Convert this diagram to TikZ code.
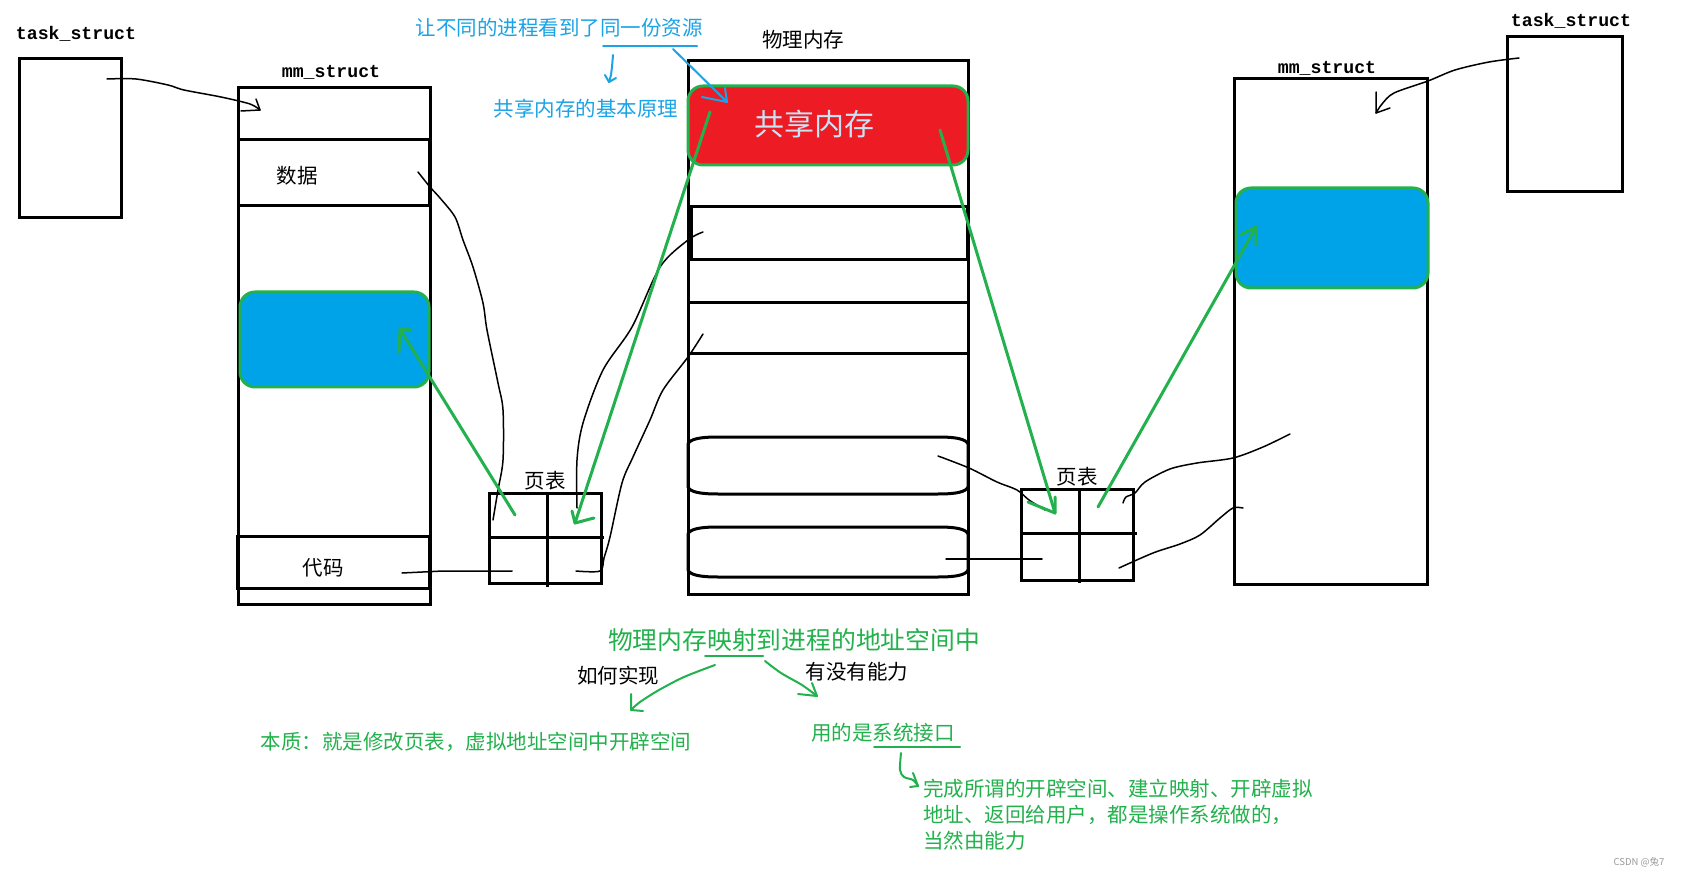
\documentclass[tikz,border=0pt]{standalone}
\usepackage{fontspec}
\newfontfamily\cjk{Noto Sans CJK SC}
\newfontfamily\mono{Liberation Mono}
\definecolor{pgreen}{HTML}{22B14C}
\definecolor{pred}{HTML}{ED1C24}
\definecolor{pblue}{HTML}{00A2E8}
\definecolor{btext}{HTML}{1AA3E6}
\definecolor{shmtext}{HTML}{C8E4F4}
\definecolor{wmark}{HTML}{9A9A9A}
\tikzset{
  box/.style={draw, line width=3pt, inner sep=0pt, outer sep=0pt},
  rbox/.style={box, draw=pgreen, rounded corners=15pt},
  wire/.style={line width=1.5pt, line cap=round, line join=round},
  gline/.style={draw=pgreen, line width=3pt, line cap=round, line join=round},
  gthin/.style={draw=pgreen, line width=2pt, line cap=round, line join=round},
  bthin/.style={draw=btext, line width=2pt, line cap=round, line join=round},
  monolbl/.style={inner sep=0pt, font=\mono\bfseries\fontsize{18.2}{20}\selectfont},
  cjklbl/.style={inner sep=0pt, font=\cjk\fontsize{20.5}{24}\selectfont},
  glbl/.style={cjklbl, text=pgreen},
  blbl/.style={cjklbl, text=btext},
}
\newcommand\stadium[2]{%
  \draw[line width=3pt] (688,{#1+7}) .. controls (690,{#1+2}) and (700,#1) .. (718,#1) -- (938,#1)
    .. controls (956,#1) and (966,{#1+2}) .. (968,{#1+7}) -- (968,{#2-7})
    .. controls (966,{#2-2}) and (956,#2) .. (938,#2) -- (718,#2)
    .. controls (700,#2) and (690,{#2-2}) .. (688,{#2-7}) -- cycle;}
\begin{document}
\begin{tikzpicture}[x=1pt,y=-1pt]
\useasboundingbox (0,0) rectangle (1681,874);
\fill[white] (0,0) rectangle (1681,874);

% ---------- left process ----------
\node[monolbl] (taskLlbl) at (76,34) {task\_struct};
\node[box, minimum width=102pt, minimum height=159pt] (taskL) at (70,138.5) {};
\node[monolbl] (mmLlbl) at (331,72) {mm\_struct};
\node[box, minimum width=192pt, minimum height=516pt] (mmL) at (334,346) {};
\node[box, minimum width=191pt, minimum height=66pt] (dataL) at (333.5,173) {};
\node[cjklbl] (dataT) at (297,176) {数据};
\node[box, minimum width=192pt, minimum height=52pt] (codeL) at (333,562) {};
\node[cjklbl] (codeT) at (323,568) {代码};
\node[rbox, fill=pblue, minimum width=189pt, minimum height=95pt] (blueL) at (334.5,339.5) {};

% left page table
\node[box, minimum width=112pt, minimum height=90pt] (ptL) at (545,538) {};
\draw[line width=3pt] (547,493) -- (547,587);
\draw[line width=3pt] (489,537) -- (604,537);
\node[cjklbl] (ptLlbl) at (545,481) {页表};

% ---------- physical memory ----------
\node[cjklbl] (physlbl) at (803,40) {物理内存};
\node[box, minimum width=280pt, minimum height=533pt] (phys) at (828,327.5) {};
\node[box, minimum width=276pt, minimum height=53pt] (row1) at (829,233.5) {};
\draw[line width=3pt] (688,303) -- (968,303);
\draw[line width=3pt] (688,354) -- (968,354);
\stadium{437}{494}
\stadium{527}{577}
\node[rbox, fill=pred, minimum width=280pt, minimum height=79pt] (shm) at (828,125.5) {};
\node[inner sep=0pt, text=shmtext, font=\cjk\fontsize{30}{34}\selectfont] (shmT) at (814,124) {共享内存};

% ---------- right process ----------
\node[monolbl] (taskRlbl) at (1571,21) {task\_struct};
\node[box, minimum width=115pt, minimum height=155pt] (taskR) at (1564.5,114.5) {};
\node[monolbl] (mmRlbl) at (1327,68) {mm\_struct};
\node[box, minimum width=193pt, minimum height=505pt] (mmR) at (1330.5,331.5) {};
\node[rbox, fill=pblue, minimum width=192pt, minimum height=100pt] (blueR) at (1332,238) {};

% right page table
\node[box, minimum width=112pt, minimum height=91pt] (ptR) at (1077,534.5) {};
\draw[line width=3pt] (1079,489) -- (1079,583);
\draw[line width=3pt] (1021,533) -- (1137,533);
\node[cjklbl] (ptRlbl) at (1077,477) {页表};

% ---------- black hand-drawn connectors ----------
\coordinate (a1s) at (107,79);   \coordinate (a1t) at (260,110);
\draw[wire] plot[smooth, tension=0.5] coordinates {(a1s) (136,79) (168,85) (184,90) (221,97) (250,104) (a1t)};
\draw[wire] (256,99) -- (a1t) -- (241,111);

\coordinate (a2s) at (1519,58);  \coordinate (a2t) at (1376,113);
\draw[wire] plot[smooth, tension=0.5] coordinates {(a2s) (1489,62) (1455,70) (1428,81) (1394,93) (1382,104) (a2t)};
\draw[wire] (1376,92) -- (a2t) -- (1390,108);

\coordinate (c3s) at (418,172); \coordinate (c3t) at (493,520);
\draw[wire] plot[smooth, tension=0.5] coordinates {(c3s) (430,187) (440,198) (455,217) (463,240) (473,267) (483,303) (487,330) (498,383) (503,410) (503,460) (498,490) (c3t)};

\coordinate (c4s) at (402,573); \coordinate (c4t) at (512,571);
\draw[wire] (c4s) -- (443,571) -- (c4t);

\coordinate (c5s) at (576,571); \coordinate (c5t) at (703,334);
\draw[wire] plot[smooth, tension=0.5] coordinates {(c5s) (600,571) (604,558) (610,537) (622,483) (633,457) (650,420) (663,390) (688,357) (c5t)};

\coordinate (c6s) at (577,508); \coordinate (c6t) at (703,232);
\draw[wire] plot[smooth, tension=0.5] coordinates {(c6s) (577,460) (583,423) (603,370) (632,327) (660,267) (688,240) (c6t)};

\coordinate (c7s) at (938,456); \coordinate (c7t) at (1045,510);
\draw[wire] plot[smooth, tension=0.5] coordinates {(c7s) (969,468) (997,482) (1017,490) (1029,500) (c7t)};

\coordinate (c8s) at (946,559); \coordinate (c8t) at (1042,559);
\draw[wire] (c8s) -- (c8t);

\coordinate (c9s) at (1123,503); \coordinate (c9t) at (1290,434);
\draw[wire] plot[smooth, tension=0.5] coordinates {(c9s) (1126,497) (1135,493) (1145,482) (1170,469) (1197,463) (1233,458) (1263,447) (c9t)};

\coordinate (c10s) at (1119,568); \coordinate (c10t) at (1243,508);
\draw[wire] plot[smooth, tension=0.5] coordinates {(c10s) (1153,553) (1180,544) (1200,535) (1220,518) (1233,508) (c10t)};

% ---------- green mapping arrows ----------
\coordinate (g1s) at (515,515); \coordinate (g1t) at (400,329);
\draw[gline] (g1s) -- (g1t);
\draw[gline] (399,352) -- (g1t) -- (411,330);

\coordinate (g2s) at (710,112); \coordinate (g2t) at (575,523);
\draw[gline] (g2s) -- (g2t);
\draw[gline] (572,511) -- (g2t) -- (594,518);

\coordinate (g3s) at (940,130); \coordinate (g3t) at (1055,513);
\draw[gline] (g3s) -- (g3t);
\draw[gline] (1055,497) -- (g3t) -- (1028,502);

\coordinate (g4s) at (1098,507); \coordinate (g4t) at (1256,227);
\draw[gline] (g4s) -- (g4t);
\draw[gline] (1256,245) -- (g4t) -- (1240,235);

% ---------- blue annotations ----------
\node[blbl] (bt1) at (559,28) {让不同的进程看到了同一份资源};
\node[blbl] (bt2) at (586,109) {共享内存的基本原理};
\draw[bthin] (603,46) -- (697,46);
\coordinate (bas) at (673,49); \coordinate (bat) at (727,102);
\draw[bthin] (bas) -- (bat);
\draw[bthin] (725,88) -- (bat) -- (702,97);
\coordinate (bds) at (613,55); \coordinate (bdt) at (609,82);
\draw[bthin] (bds) -- (612,67) -- (611,75) -- (bdt);
\draw[bthin] (605,75) -- (bdt) -- (616,78);

% ---------- green notes ----------
\node[inner sep=0pt, text=pgreen, font=\cjk\fontsize{24.8}{28}\selectfont] (gh) at (794,640) {物理内存映射到进程的地址空间中};
\draw[gthin] (705,656) -- (763,656);
\node[cjklbl] (how) at (618,676) {如何实现};
\node[cjklbl] (able) at (857,672) {有没有能力};

\coordinate (l1s) at (715,665); \coordinate (l1t) at (631,710);
\draw[gthin] plot[smooth, tension=0.5] coordinates {(l1s) (684,677) (659,690) (640,702) (l1t)};
\draw[gthin] (631,694) -- (l1t) -- (643,711);

\coordinate (r1s) at (765,661); \coordinate (r1t) at (817,696);
\draw[gthin] plot[smooth, tension=0.5] coordinates {(r1s) (781,673) (802,685) (r1t)};
\draw[gthin] (812,683) -- (r1t) -- (798,694);

\node[glbl] (ess) at (476,742) {本质：就是修改页表，虚拟地址空间中开辟空间};
\node[glbl] (sys) at (883,733) {用的是系统接口};
\draw[gthin] (874,747) -- (960,747);

\coordinate (sqs) at (901,753); \coordinate (sqt) at (918,786);
\draw[gthin] plot[smooth, tension=0.5] coordinates {(sqs) (900,770) (904,777) (913,780) (sqt)};
\draw[gthin] (913,773) -- (sqt) -- (910,787);

\node[glbl, anchor=west] (p1) at (923,789) {完成所谓的开辟空间、建立映射、开辟虚拟};
\node[glbl, anchor=west] (p2) at (923,815) {地址、返回给用户，都是操作系统做的，};
\node[glbl, anchor=west] (p3) at (923,841) {当然由能力};

\node[inner sep=0pt, text=wmark, font=\cjk\fontsize{9.5}{11}\selectfont] (wm) at (1639,862) {CSDN @兔7};
\end{tikzpicture}
\end{document}
